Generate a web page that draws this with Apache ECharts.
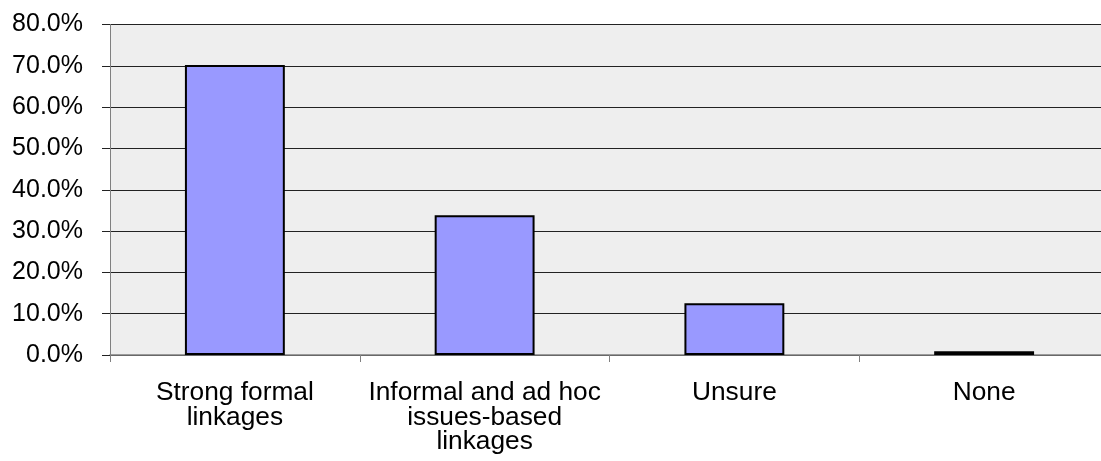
<!DOCTYPE html>
<html>
<head>
<meta charset="utf-8">
<script src="https://cdn.jsdelivr.net/npm/echarts@6/dist/echarts.min.js"></script>
<style>
  html, body { margin: 0; padding: 0; background: #ffffff; }
  #chart { width: 1101px; height: 461px; }
</style>
</head>
<body>
<div id="chart"></div>
<script>
// Response categories and their share of respondents (%)
const categories = [
  'Strong formal\nlinkages',
  'Informal and ad hoc\nissues-based\nlinkages',
  'Unsure',
  'None'
];
const shares = [70.2, 33.8, 12.5, 0.9];
const yTicks = { min: 0, max: 80, interval: 10 };

const FONT = '"Liberation Sans", Arial, sans-serif';

const chart = echarts.init(document.getElementById('chart'), null, { renderer: 'canvas' });
chart.setOption({
  animation: false,
  backgroundColor: '#ffffff',
  grid: {
    left: 110,
    top: 24.5,
    width: 999,
    bottom: 106,
    outerBoundsMode: 'none',
    containLabel: false,
    show: true,
    backgroundColor: '#eeeeee',
    borderWidth: 0
  },
  xAxis: {
    type: 'category',
    data: categories,
    axisLine: { show: true, lineStyle: { color: '#808080', width: 1.5 } },
    axisTick: { show: true, length: 7, lineStyle: { color: '#808080', width: 1 } },
    axisLabel: {
      margin: 26,
      color: '#000000',
      fontFamily: FONT,
      fontSize: 26.3,
      lineHeight: 24.3,
      interval: 0
    },
    splitLine: { show: false }
  },
  yAxis: {
    type: 'value',
    min: yTicks.min,
    max: yTicks.max,
    interval: yTicks.interval,
    axisLine: { show: true, lineStyle: { color: '#808080', width: 1 } },
    axisTick: { show: true, length: 8, lineStyle: { color: '#222222', width: 1 } },
    axisLabel: {
      margin: 27,
      color: '#000000',
      fontFamily: FONT,
      fontSize: 25,
      formatter: v => v.toFixed(1) + '%'
    },
    splitLine: { show: true, lineStyle: { color: '#222222', width: 1 } }
  },
  series: [{
    type: 'bar',
    data: shares,
    barWidth: '40%',
    itemStyle: {
      color: '#9999ff',
      borderColor: '#000000',
      borderWidth: 2
    }
  }]
});
</script>
</body>
</html>
